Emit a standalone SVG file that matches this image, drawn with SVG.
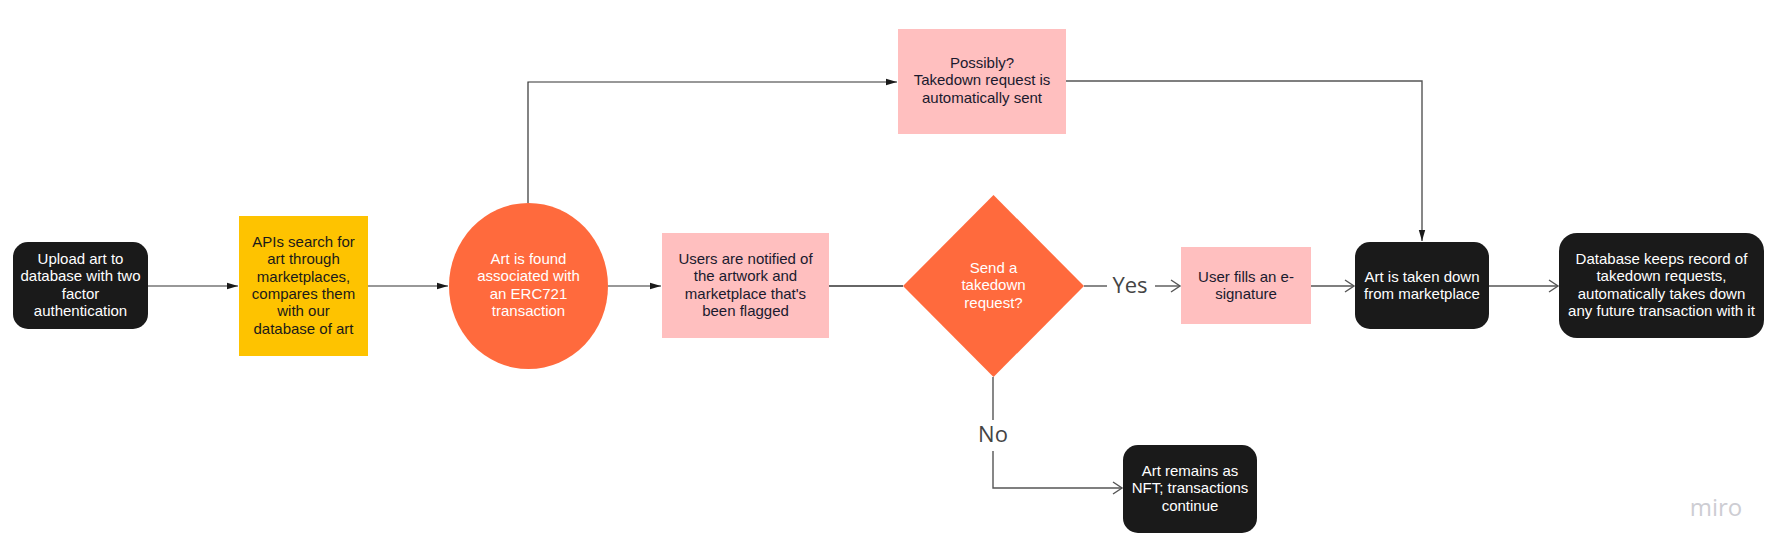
<svg xmlns="http://www.w3.org/2000/svg" width="1786" height="559" viewBox="0 0 1786 559">
<style>
.t{font-family:"Liberation Sans",Arial,sans-serif;font-size:15px;text-anchor:middle}
.w{fill:#ffffff}
.d{fill:#1a1a2e}
.lbl{font-family:"Open Sans","DejaVu Sans",sans-serif;font-size:22px;fill:#444444;text-anchor:middle}
.dark{fill:#1a1a1a}
.pink{fill:#ffbfbf}
.orange{fill:#ff6a3d}
.c1{stroke:#333333;stroke-width:1.2;fill:none}
.c2{stroke:#555555;stroke-width:1.4;fill:none}
</style>
<defs>
<marker id="fa" markerWidth="12" markerHeight="8" refX="11" refY="4" orient="auto" markerUnits="userSpaceOnUse">
<path d="M0,0.8 L11,4 L0,7.2 Z" fill="#1a1a1a"/>
</marker>
<marker id="oa" markerWidth="12" markerHeight="14" refX="10" refY="7" orient="auto" markerUnits="userSpaceOnUse">
<path d="M1,1 L10,7 L1,13" fill="none" stroke="#555555" stroke-width="1.4"/>
</marker>
</defs>
<rect width="1786" height="559" fill="#ffffff"/>

<g id="connectors">
<line class="c1" x1="148" y1="286" x2="238" y2="286" marker-end="url(#fa)"/>
<line class="c1" x1="368" y1="286" x2="448" y2="286" marker-end="url(#fa)"/>
<line class="c1" x1="608" y1="286" x2="661" y2="286" marker-end="url(#fa)"/>
<polyline class="c1" points="528,203 528,82 897,82" marker-end="url(#fa)"/>
<polyline class="c2" points="1066,81 1422,81 1422,241" marker-end="url(#fa)"/>
<line x1="829" y1="286" x2="903" y2="286" stroke="#333333" stroke-width="1.6"/>
<line class="c2" x1="1084" y1="286" x2="1107" y2="286"/>
<line class="c2" x1="1155" y1="286" x2="1180" y2="286" marker-end="url(#oa)"/>
<line class="c2" x1="1311" y1="286" x2="1354" y2="286" marker-end="url(#oa)"/>
<line class="c2" x1="1489" y1="286" x2="1558" y2="286" marker-end="url(#oa)"/>
<line class="c2" x1="993" y1="377" x2="993" y2="420"/>
<polyline class="c2" points="993,451 993,488 1122,488" marker-end="url(#oa)"/>
<text class="lbl" x="1130" y="293">Yes</text>
<text class="lbl" x="993" y="442">No</text>
</g>

<g id="upload">
<rect class="dark" x="13" y="242" width="135" height="87" rx="15"/>
<text class="t w" x="80.5" y="264">Upload art to<tspan x="80.5" dy="17.4">database with two</tspan><tspan x="80.5" dy="17.4">factor</tspan><tspan x="80.5" dy="17.4">authentication</tspan></text>
</g>

<g id="apis">
<rect fill="#fec300" x="239" y="216" width="129" height="140"/>
<text class="t" fill="#1a1a1a" x="303.5" y="247">APIs search for<tspan x="303.5" dy="17.3">art through</tspan><tspan x="303.5" dy="17.3">marketplaces,</tspan><tspan x="303.5" dy="17.3">compares them</tspan><tspan x="303.5" dy="17.3">with our</tspan><tspan x="303.5" dy="17.3">database of art</tspan></text>
</g>

<g id="found">
<ellipse class="orange" cx="528.5" cy="286" rx="79.5" ry="83"/>
<text class="t w" x="528.5" y="264">Art is found<tspan x="528.5" dy="17.4">associated with</tspan><tspan x="528.5" dy="17.4">an ERC721</tspan><tspan x="528.5" dy="17.4">transaction</tspan></text>
</g>

<g id="notified">
<rect class="pink" x="662" y="233" width="167" height="105"/>
<text class="t d" x="745.5" y="264">Users are notified of<tspan x="745.5" dy="17.4">the artwork and</tspan><tspan x="745.5" dy="17.4">marketplace that's</tspan><tspan x="745.5" dy="17.4">been flagged</tspan></text>
</g>

<g id="possibly">
<rect class="pink" x="898" y="29" width="168" height="105"/>
<text class="t d" x="982" y="68">Possibly?<tspan x="982" dy="17.4">Takedown request is</tspan><tspan x="982" dy="17.4">automatically sent</tspan></text>
</g>

<g id="decision">
<polygon class="orange" points="903,286 993.5,195 1084,286 993.5,377"/>
<text class="t w" x="993.5" y="273">Send a<tspan x="993.5" dy="17.4">takedown</tspan><tspan x="993.5" dy="17.4">request?</tspan></text>
</g>

<g id="esign">
<rect class="pink" x="1181" y="247" width="130" height="77"/>
<text class="t d" x="1246" y="282">User fills an e-<tspan x="1246" dy="17.4">signature</tspan></text>
</g>

<g id="takendown">
<rect class="dark" x="1355" y="242" width="134" height="87" rx="15"/>
<text class="t w" x="1422" y="282">Art is taken down<tspan x="1422" dy="17.4">from marketplace</tspan></text>
</g>

<g id="database">
<rect class="dark" x="1559" y="233" width="205" height="105" rx="18"/>
<text class="t w" x="1661.5" y="264">Database keeps record of<tspan x="1661.5" dy="17.4">takedown requests,</tspan><tspan x="1661.5" dy="17.4">automatically takes down</tspan><tspan x="1661.5" dy="17.4">any future transaction with it</tspan></text>
</g>

<g id="remains">
<rect class="dark" x="1123" y="445" width="134" height="88" rx="15"/>
<text class="t w" x="1190" y="476">Art remains as<tspan x="1190" dy="17.4">NFT; transactions</tspan><tspan x="1190" dy="17.4">continue</tspan></text>
</g>

<text x="1716" y="516" font-family="Open Sans, DejaVu Sans, sans-serif" font-size="24" font-weight="normal" fill="#cdcdd3" text-anchor="middle">miro</text>
</svg>
